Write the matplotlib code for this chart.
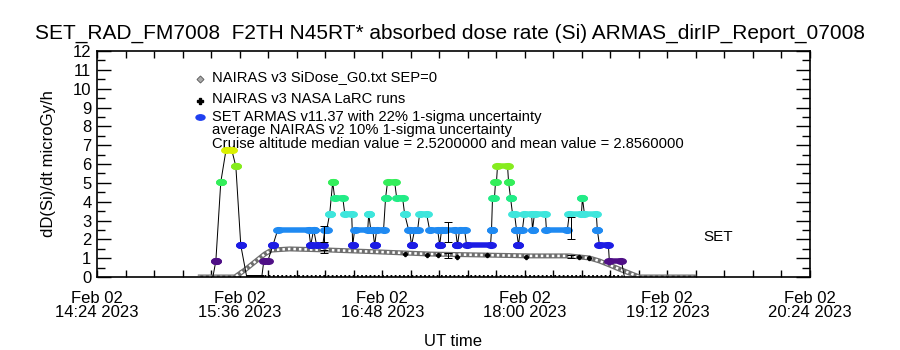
import numpy as np
import matplotlib
matplotlib.use("Agg")
import matplotlib.pyplot as plt
from matplotlib.path import Path
from matplotlib.ticker import MultipleLocator, FixedLocator

plt.rcParams['font.family'] = ['Liberation Sans', 'DejaVu Sans']

# --- DATA (time in minutes after Feb 02 14:24 UT) ---
x_ticks = [0, 72, 144, 216, 288, 360]
x_tick_labels = ["Feb 02\n14:24 2023", "Feb 02\n15:36 2023", "Feb 02\n16:48 2023",
                 "Feb 02\n18:00 2023", "Feb 02\n19:12 2023", "Feb 02\n20:24 2023"]
y_ticks = list(range(0, 13))

# SET ARMAS dose rate, run-length form: start, end, value (0.84 steps)
set_t0 = [60.0, 62.5, 65.1, 70.1, 72.6, 75.6, 84.2, 88.8, 91.3, 107.9, 109.4, 110.9, 115.0, 117.5, 119.0,
          120.0, 125.1, 129.1, 130.1, 137.2, 138.2, 140.2, 141.2, 145.7, 146.7, 151.3, 155.3, 157.3, 158.8,
          160.4, 162.9, 167.9, 173.0, 174.0, 175.5, 182.0, 183.1, 186.6, 199.2, 199.7, 201.2, 202.2, 207.8,
          208.8, 209.8, 211.8, 212.8, 213.8, 215.8, 219.9, 220.9, 226.9, 238.5, 245.1, 246.1, 252.6, 253.7,
          258.7]
set_t1 = [60.0, 62.5, 68.1, 70.1, 72.6, 83.2, 86.2, 88.8, 106.9, 107.9, 109.4, 114.0, 116.0, 117.5, 119.0,
          124.1, 128.6, 129.1, 136.7, 137.2, 139.2, 140.2, 144.7, 145.7, 150.3, 154.3, 155.3, 157.8, 158.8,
          161.9, 166.4, 172.0, 173.0, 174.0, 181.0, 182.0, 185.6, 198.7, 199.2, 200.7, 201.7, 207.3, 207.8,
          208.8, 210.8, 211.8, 212.8, 214.8, 219.4, 219.9, 226.4, 237.5, 244.6, 245.1, 252.1, 252.6, 258.2,
          264.8]
set_val = [0.84, 5.04, 6.72, 5.88, 1.68, 0.0, 0.84, 1.68, 2.52, 1.68, 2.52, 1.68, 2.52, 3.36, 5.04,
           4.20, 3.36, 1.68, 2.52, 3.36, 2.52, 1.68, 2.52, 4.20, 5.04, 4.20, 3.36, 2.52, 1.68,
           2.52, 3.36, 2.52, 1.68, 2.52, 2.52, 1.68, 2.52, 1.68, 2.52, 4.20, 5.04, 5.88, 5.04,
           4.20, 3.36, 2.52, 1.68, 2.52, 3.36, 2.52, 3.36, 2.52, 3.36, 4.20, 3.36, 2.52, 1.68,
           0.84]
set_start, set_end = 58.5, 266.3

level_values = [0.84, 1.68, 2.52, 3.36, 4.20, 5.04, 5.88, 6.72]
level_colors = ['#4f0f86', '#1c1ce4', '#1f8af2', '#3ee6dc', '#22ec86', '#34ee5a', '#86ec1e', '#daf000']

# NAIRAS v3 SiDose_G0 model curve
nairas_t = [50.9, 69.6, 74.6, 79.7, 84.7, 88.2, 97.3, 117.5, 142.7, 167.9, 193.1, 218.4, 238.5, 248.6,
            253.7, 258.7, 263.7, 268.8, 273.8, 302.6]
nairas_v = [0.0, 0.0, 0.37, 0.80, 1.22, 1.43, 1.49, 1.43, 1.33, 1.22, 1.17, 1.12, 1.12, 1.01,
            0.85, 0.64, 0.42, 0.21, 0.0, 0.0]

# NAIRAS v3 NASA LaRC runs
larc_t = [155.3, 166.4, 172.0, 181.6, 196.7, 216.8, 243.6, 248.6]
larc_v = [1.22, 1.17, 1.17, 1.06, 1.17, 1.06, 1.06, 1.01]

# error bars: time, low, high
set_err_t = [114.5, 177.0, 239.5]
set_err_lo = [1.85, 1.86, 2.0]
set_err_hi = [2.72, 2.92, 3.2]
nai_err_t = [114.5, 177.0, 239.5]
nai_err_lo = [1.25, 1.0, 1.0]
nai_err_hi = [1.45, 1.27, 1.17]

# zero-level marks along the flight
zero_t0, zero_t1 = 84.2, 265.0

title = "SET_RAD_FM7008  F2TH N45RT* absorbed dose rate (Si) ARMAS_dirIP_Report_07008"

# --- PLOT ---
fig = plt.figure(figsize=(9, 3.5), dpi=100)
ax = fig.add_axes([97 / 900, 1 - 277 / 350, 713 / 900, 226 / 350])
ax.set_xlim(0, 360)
ax.set_ylim(0, 12)

px = 72 / 100  # points per pixel

# NAIRAS model band (hatched look)
ax.plot(nairas_t, nairas_v, color='#6e6e6e', lw=5 * px, zorder=2, solid_capstyle='butt')
ax.plot(nairas_t, nairas_v, color='white', lw=2.5 * px, ls=(0, (1, 1.2)), zorder=2)

# zero-level fine marks
ax.plot([zero_t0, zero_t1], [0.05, 0.05], color='black', lw=3 * px, ls=(0, (0.6, 0.8)), zorder=3)

# black connecting line for SET
line_t = [set_start]
line_v = [0.0]
for a, b, v in zip(set_t0, set_t1, set_val):
    line_t += [a, b]
    line_v += [v, v]
line_t.append(set_end)
line_v.append(0.0)
ax.plot(line_t, line_v, color='black', lw=1 * px, zorder=4)

# elliptic marker
circ = Path.unit_circle()
ell = Path(circ.vertices * np.array([1.0, 0.6]), circ.codes)

for a, b, v in zip(set_t0, set_t1, set_val):
    if v <= 0:
        ax.plot([a, b], [0.05, 0.05], color='black', lw=3 * px, zorder=5)
        continue
    c = level_colors[int(np.argmin([abs(v - lv) for lv in level_values]))]
    ax.plot([a, b], [v, v], color=c, lw=5.5 * px, zorder=5, solid_capstyle='butt')
    ax.plot([a, b], [v, v], ls='none', marker=ell, ms=9.5 * px, color=c, zorder=5)

# LaRC runs
ax.plot(larc_t, larc_v, ls='none', marker='P', ms=4 * px, color='black', zorder=6)

# error bars
ax.errorbar(set_err_t, [(l + h) / 2 for l, h in zip(set_err_lo, set_err_hi)],
            yerr=[[(h - l) / 2 for l, h in zip(set_err_lo, set_err_hi)]] * 2,
            fmt='none', ecolor='black', elinewidth=1 * px, capsize=4 * px, capthick=1 * px, zorder=7)
ax.errorbar(nai_err_t, [(l + h) / 2 for l, h in zip(nai_err_lo, nai_err_hi)],
            yerr=[[(h - l) / 2 for l, h in zip(nai_err_lo, nai_err_hi)]] * 2,
            fmt='none', ecolor='black', elinewidth=1 * px, capsize=4 * px, capthick=1 * px, zorder=7)

# axes, ticks
ax.xaxis.set_major_locator(FixedLocator(x_ticks))
ax.set_xticklabels(x_tick_labels, fontsize=12, linespacing=0.95)
ax.xaxis.set_minor_locator(MultipleLocator(14.4))
ax.yaxis.set_major_locator(FixedLocator(y_ticks))
ax.set_yticklabels([str(v) for v in y_ticks], fontsize=12)
ax.yaxis.set_minor_locator(MultipleLocator(0.5))
ax.tick_params(axis='x', which='both', direction='in', top=True, length=5, width=1, pad=10)
ax.tick_params(axis='y', which='major', direction='in', right=True, length=10, width=1, pad=4)
ax.tick_params(axis='y', which='minor', direction='in', right=True, length=6, width=1)
for s in ax.spines.values():
    s.set_linewidth(1.2)

ax.set_xlabel("UT time", fontsize=12, labelpad=10)
ax.set_ylabel("dD(Si)/dt microGy/h", fontsize=12, labelpad=12)
fig.text(0.5, 1 - 33 / 350, title, ha='center', va='center', fontsize=15)

# legend (manual, IDL style)
tx = (212 - 97) / 713
sx = (200 - 97) / 713
ty = lambda py: (277 - py) / 226
fs = 10.6
ax.plot([sx], [ty(79)], transform=ax.transAxes, marker='D', ms=5 * px, mfc='#aaaaaa', mec='#555555',
        mew=0.6, ls='none', clip_on=False)
ax.plot([sx], [ty(101)], transform=ax.transAxes, marker='P', ms=6 * px, color='black', ls='none',
        clip_on=False)
ax.plot([sx], [ty(117)], transform=ax.transAxes, marker=ell, ms=9 * px, color='#1f3ff0', ls='none',
        clip_on=False)
ax.text(tx, ty(77), "NAIRAS v3 SiDose_G0.txt SEP=0", transform=ax.transAxes, fontsize=fs, va='center')
ax.text(tx, ty(99), "NAIRAS v3 NASA LaRC runs", transform=ax.transAxes, fontsize=fs, va='center')
ax.text(tx, ty(117), "SET ARMAS v11.37 with 22% 1-sigma uncertainty", transform=ax.transAxes,
        fontsize=fs, va='center')
ax.text(tx, ty(130), "average NAIRAS v2 10% 1-sigma uncertainty", transform=ax.transAxes,
        fontsize=fs, va='center')
ax.text(tx, ty(144), "Cruise altitude median value = 2.5200000 and mean value = 2.8560000",
        transform=ax.transAxes, fontsize=fs, va='center')
ax.text((703 - 97) / 713, ty(237), "SET", transform=ax.transAxes, fontsize=11, va='center')

fig.savefig("out.png", dpi=100)
